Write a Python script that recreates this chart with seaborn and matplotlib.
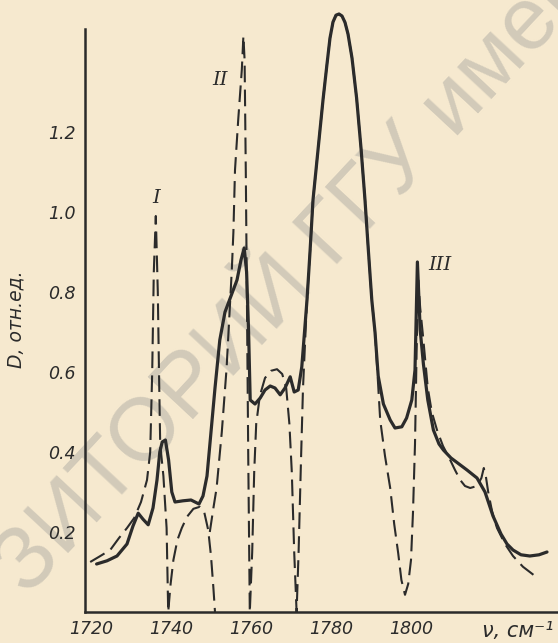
import matplotlib
matplotlib.use("Agg")
import matplotlib.pyplot as plt
import pandas as pd
import seaborn as sns

# ---------------- data ----------------
solid_x = [1721.4, 1724.0, 1726.5, 1729.0, 1730.5, 1731.8, 1733.0, 1734.3, 1735.5, 1736.5,
           1737.2, 1737.8, 1738.6, 1739.4, 1740.2, 1741.0, 1743.0, 1745.0, 1747.0, 1748.0,
           1749.0, 1750.0, 1751.0, 1752.2, 1753.5, 1755.0, 1756.5, 1757.5, 1758.3, 1758.9,
           1759.4, 1759.8, 1761.0, 1762.3, 1763.5, 1764.8, 1766.0, 1767.3, 1768.5, 1769.8,
           1770.8, 1771.8, 1772.7, 1774.0, 1774.75, 1775.5, 1776.75, 1778.0, 1779.0, 1779.75,
           1780.5, 1781.25, 1782.0, 1782.75, 1783.5, 1784.25, 1785.25, 1786.4, 1787.5, 1788.5,
           1789.3, 1790.2, 1791.0, 1791.8, 1793.1, 1794.8, 1796.0, 1797.7, 1798.9, 1800.2,
           1801.0, 1801.6, 1802.3, 1803.1, 1804.2, 1805.6, 1807.0, 1808.1, 1810.0, 1812.0,
           1814.0, 1816.5, 1818.5, 1820.5, 1822.5, 1824.0, 1825.5, 1827.5, 1829.7, 1832.0,
           1834.0]
solid_d = [0.120, 0.128, 0.140, 0.170, 0.215, 0.247, 0.232, 0.218, 0.260, 0.330,
           0.400, 0.425, 0.430, 0.380, 0.300, 0.275, 0.278, 0.280, 0.270, 0.290,
           0.340, 0.450, 0.560, 0.680, 0.750, 0.790, 0.830, 0.880, 0.910, 0.850,
           0.700, 0.530, 0.520, 0.535, 0.555, 0.565, 0.560, 0.543, 0.560, 0.588,
           0.550, 0.555, 0.613, 0.780, 0.900, 1.030, 1.155, 1.280, 1.370, 1.435,
           1.475, 1.492, 1.495, 1.490, 1.474, 1.445, 1.385, 1.285, 1.160, 1.030,
           0.910, 0.780, 0.700, 0.590, 0.520, 0.480, 0.460, 0.463, 0.485, 0.530,
           0.605, 0.875, 0.705, 0.620, 0.530, 0.455, 0.420, 0.405, 0.385, 0.370,
           0.355, 0.335, 0.300, 0.240, 0.195, 0.170, 0.155, 0.143, 0.140, 0.143,
           0.150]

dash_a_x = [1719.8, 1722.0, 1724.8, 1727.0, 1729.0, 1730.8, 1732.5, 1734.0, 1734.8, 1735.3,
            1735.7, 1736.2, 1736.7, 1737.0, 1737.3, 1738.1, 1738.9, 1739.3, 1739.9, 1740.6,
            1741.6, 1742.7, 1744.0, 1745.6, 1747.2, 1748.3, 1749.3, 1750.0, 1750.6, 1751.0]
dash_a_d = [0.125, 0.138, 0.155, 0.185, 0.210, 0.235, 0.275, 0.330, 0.400, 0.600,
            0.850, 0.990, 0.800, 0.600, 0.420, 0.340, 0.210, 0.000, 0.070, 0.130,
            0.180, 0.210, 0.238, 0.258, 0.263, 0.250, 0.205, 0.140, 0.060, 0.000]

dash_b_x = [1749.7, 1750.6, 1751.4, 1752.7, 1753.9, 1754.7, 1755.2, 1755.6, 1756.0, 1756.8,
            1757.7, 1758.1, 1758.4, 1758.7, 1759.0, 1759.3, 1759.7, 1760.3, 1760.8, 1761.3,
            1762.2, 1763.5, 1765.0, 1766.5, 1767.8, 1768.8, 1769.6, 1770.2, 1770.8, 1771.4,
            1771.9, 1772.5, 1773.0, 1774.0, 1774.75, 1775.5, 1776.75, 1778.0, 1779.0, 1779.75,
            1780.5, 1781.25, 1782.0, 1782.75, 1783.5, 1784.25, 1785.25, 1786.4, 1787.5, 1788.5,
            1789.3, 1790.2, 1791.0, 1791.6, 1792.3, 1793.5, 1794.8, 1795.8, 1796.8, 1797.6,
            1798.5, 1799.3, 1800.0, 1800.5, 1801.0, 1801.4, 1801.8, 1802.3, 1803.0, 1804.2,
            1805.2, 1806.5, 1808.0, 1809.8, 1811.0, 1812.3, 1813.5, 1814.8, 1816.5, 1817.6,
            1818.2, 1818.7, 1819.3, 1820.3, 1821.5, 1823.5, 1825.5, 1828.0, 1831.0]
dash_b_d = [0.200, 0.260, 0.310, 0.450, 0.610, 0.760, 0.855, 0.950, 1.105, 1.230,
            1.355, 1.440, 1.380, 1.100, 0.760, 0.400, 0.000, 0.150, 0.350, 0.470,
            0.540, 0.585, 0.603, 0.607, 0.595, 0.560, 0.470, 0.350, 0.150, 0.000,
            0.150, 0.380, 0.560, 0.780, 0.900, 1.030, 1.155, 1.280, 1.370, 1.435,
            1.475, 1.492, 1.495, 1.490, 1.474, 1.445, 1.385, 1.285, 1.160, 1.030,
            0.910, 0.780, 0.700, 0.600, 0.480, 0.390, 0.310, 0.220, 0.147, 0.080,
            0.043, 0.070, 0.130, 0.250, 0.420, 0.650, 0.830, 0.760, 0.690, 0.560,
            0.500, 0.455, 0.415, 0.380, 0.355, 0.330, 0.315, 0.310, 0.315, 0.335,
            0.360, 0.340, 0.300, 0.250, 0.210, 0.170, 0.140, 0.113, 0.090]

x_major = [1720, 1740, 1760, 1780, 1800]
x_minor = [1730, 1750, 1770, 1790, 1810, 1820, 1830]
y_major = [0.2, 0.4, 0.6, 0.8, 1.0, 1.2]
y_minor = [0.1, 0.3, 0.5, 0.7, 0.9, 1.1, 1.3]
peak_labels = ["I", "II", "III"]
peak_label_x = [1736.3, 1752.3, 1807.3]
peak_label_y = [1.035, 1.33, 0.867]
x_label = "ν, см⁻¹"
y_label = "D, отн.ед."
watermark = "ЗИТОРИЙ ГГУ имени"

# ---------------- style ----------------
sns.set_theme(style="white")
plt.rcParams["font.family"] = ["DejaVu Sans"]
tick_fs = 12.5

paper = "#f6e9cf"
ink = "#2b2b2b"

fig = plt.figure(figsize=(5.58, 6.43), dpi=100, facecolor=paper)
ax = fig.add_axes([85 / 558, 31 / 643, 473 / 558, 612 / 643])
ax.set_facecolor("none")

solid_df = pd.DataFrame({"nu": solid_x, "D": solid_d})
dash_df = pd.concat([
    pd.DataFrame({"nu": dash_a_x, "D": dash_a_d, "seg": "a"}),
    pd.DataFrame({"nu": dash_b_x, "D": dash_b_d, "seg": "b"}),
], ignore_index=True)

sns.lineplot(data=dash_df, x="nu", y="D", units="seg", estimator=None, sort=False,
             color=ink, linewidth=1.5, linestyle=(0, (8, 3.5)), legend=False, ax=ax)
sns.lineplot(data=solid_df, x="nu", y="D", estimator=None, sort=False,
             color=ink, linewidth=2.3, legend=False, ax=ax)

ax.set_xlim(1718.5, 1836.75)
ax.set_ylim(0, 1.53)
ax.set_xlabel("")
ax.set_ylabel("")

for s in ["top", "right"]:
    ax.spines[s].set_visible(False)
for s in ["left", "bottom"]:
    ax.spines[s].set_color(ink)
    ax.spines[s].set_linewidth(1.8)
ax.spines["left"].set_bounds(0, 1.4575)

ax.set_xticks(x_major, labels=[str(v) for v in x_major], fontstyle="italic",
              fontsize=tick_fs, color=ink)
ax.set_xticks(x_minor, minor=True)
ax.set_yticks(y_major, labels=[f"{v:.1f}" for v in y_major], fontstyle="italic",
              fontsize=tick_fs, color=ink)
ax.set_yticks(y_minor, minor=True)
ax.tick_params(which="both", direction="in", length=7.5, width=1.1, color=ink)
ax.tick_params(axis="y", which="both", pad=7)
ax.tick_params(axis="x", which="both", pad=6)
ax.grid(False)

for lab, lx, ly in zip(peak_labels, peak_label_x, peak_label_y):
    ax.text(lx, ly, lab, ha="center", va="center", fontsize=14, fontstyle="italic",
            family=["DejaVu Serif"], color=ink)

fig.text(553 / 558, 1 - 631 / 643, x_label, ha="right", va="center",
         fontsize=15, fontstyle="italic", color=ink)
fig.text(16 / 558, 1 - 319 / 643, y_label, ha="center", va="center", rotation=90,
         fontsize=13.5, fontstyle="italic", color=ink)

fig.text(27 / 558, 1 - 597 / 643, watermark, rotation=47, rotation_mode="anchor",
         ha="left", va="baseline", fontsize=64, color="#9c9c98", alpha=0.4,
         family=["Liberation Sans", "DejaVu Sans"], zorder=-1)

fig.savefig("out.png", dpi=100, facecolor=paper)
